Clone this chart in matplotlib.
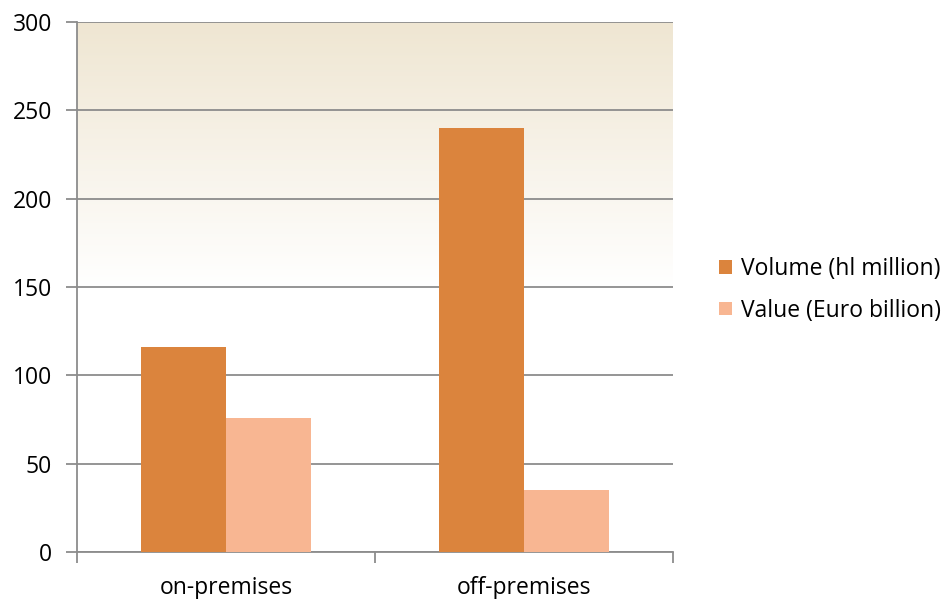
import matplotlib
matplotlib.use("Agg")
import matplotlib.pyplot as plt
import numpy as np
from matplotlib.colors import LinearSegmentedColormap

categories = ["on-premises", "off-premises"]
volume = [116, 240]
value = [76, 35]
series_names = ["Volume (hl million)", "Value (Euro billion)"]
yticks = [0, 50, 100, 150, 200, 250, 300]

plt.rcParams['font.family'] = ['Open Sans', 'DejaVu Sans']
FS = 16.5

fig = plt.figure(figsize=(9.49, 5.99), dpi=100)
ax = fig.add_axes([77/949, 1-552/599, (673-77)/949, (552-22)/599])

# gradient background
cmap = LinearSegmentedColormap.from_list("bg", [(0, "#ffffff"), (0.5, "#ffffff"), (1.0, "#efe6d2")])
grad = np.linspace(0, 1, 256).reshape(-1, 1)
ax.imshow(grad, aspect='auto', cmap=cmap, origin='lower',
          extent=[-0.5, 1.5, 0, 300], zorder=0)

x = np.arange(len(categories))
w = 0.285
ax.bar(x - w/2, volume, w, color="#db843d", label=series_names[0], zorder=3)
ax.bar(x + w/2, value, w, color="#f8b692", label=series_names[1], zorder=3)

ax.set_xlim(-0.5, 1.5)
ax.set_ylim(0, 300)
ax.set_yticks(yticks)
ax.set_yticklabels([str(t) for t in yticks], fontsize=FS)
ax.yaxis.grid(True, color="#8c8c8c", linewidth=1.3, zorder=1)
ax.set_axisbelow(True)

ax.set_xticks([-0.5, 0.5, 1.5])
ax.set_xticklabels([])
ax.set_xticks(x, minor=True)
ax.set_xticklabels(categories, minor=True, fontsize=FS)
ax.tick_params(axis='x', which='minor', length=0, pad=17)
ax.tick_params(axis='x', which='major', length=8, color="#8c8c8c", width=1.3)
ax.tick_params(axis='y', length=8, color="#8c8c8c", width=1.3, pad=10)

for s in ["top", "right"]:
    ax.spines[s].set_visible(False)
for s in ["left", "bottom"]:
    ax.spines[s].set_color("#8c8c8c")
    ax.spines[s].set_linewidth(1.3)

leg = fig.legend(loc='center left', bbox_to_anchor=(708/949, 1-290/599), frameon=False,
                 fontsize=FS, handlelength=0.55, handleheight=0.55, handletextpad=0.4,
                 labelspacing=0.75, borderpad=0)

fig.savefig("out.png", dpi=100)
